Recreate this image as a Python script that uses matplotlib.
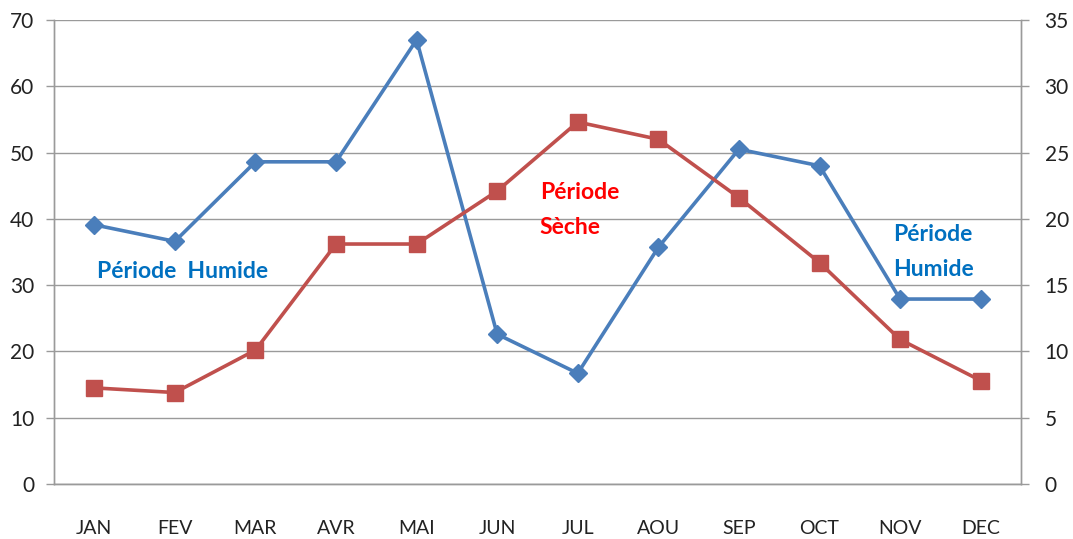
import matplotlib
matplotlib.use("Agg")
import matplotlib.pyplot as plt

months = ["JAN", "FEV", "MAR", "AVR", "MAI", "JUN", "JUL", "AOU", "SEP", "OCT", "NOV", "DEC"]
blue_vals = [39.1, 36.6, 48.6, 48.6, 67.0, 22.6, 16.7, 35.7, 50.5, 48.0, 27.9, 27.9]
red_vals = [7.25, 6.9, 10.1, 18.1, 18.1, 22.1, 27.3, 26.0, 21.6, 16.7, 10.9, 7.8]
left_ticks = [0, 10, 20, 30, 40, 50, 60, 70]
right_ticks = [0, 5, 10, 15, 20, 25, 30, 35]

plt.rcParams['font.family'] = ['Lato', 'DejaVu Sans']

fig = plt.figure(figsize=(10.73, 5.39), dpi=100)
ax = fig.add_axes([0.0503, 0.102, 0.9012, 0.861])
ax2 = ax.twinx()

x = list(range(len(months)))
grid_c = '#9a9a9a'

ax.set_xlim(-0.5, 11.5)
ax.set_ylim(0, 70)
ax2.set_ylim(0, 35)
ax.set_yticks(left_ticks)
ax2.set_yticks(right_ticks)
ax.yaxis.grid(True, color=grid_c, linewidth=1.0)
ax.set_axisbelow(True)

ax.plot(x, blue_vals, color='#4a7ebb', linewidth=2.6, marker='D', markersize=9,
        markerfacecolor='#4a7ebb', markeredgecolor='#4a7ebb', zorder=3)
ax2.plot(x, red_vals, color='#c0504d', linewidth=2.6, marker='s', markersize=11,
         markerfacecolor='#c0504d', markeredgecolor='#c0504d', zorder=3)

ax.set_xticks(x)
ax.set_xticklabels(months)
for a in (ax, ax2):
    a.spines['top'].set_visible(False)
    for s in ('left', 'right', 'bottom'):
        a.spines[s].set_color(grid_c)
        a.spines[s].set_linewidth(1.0)
ax.tick_params(axis='x', length=0, pad=26, labelsize=14, colors='#222222')
ax.tick_params(axis='y', length=6, width=1, color=grid_c, pad=8, labelsize=15, labelcolor='#222222')
ax2.tick_params(axis='y', length=6, width=1, color=grid_c, pad=11, labelsize=15, labelcolor='#222222')

ax.text(0.03, 32.0, "Période  Humide", color='#0070c0', fontsize=16.5, fontweight='bold',
        ha='left', va='center', zorder=4)
ax.text(5.53, 41.3, "Période\nSèche", color='#ff0000', fontsize=16.5, fontweight='bold',
        ha='left', va='center', linespacing=1.8, zorder=4)
ax.text(9.91, 35.0, "Période\nHumide", color='#0070c0', fontsize=16.5, fontweight='bold',
        ha='left', va='center', linespacing=1.8, zorder=4)

fig.savefig("out.png", dpi=100)
